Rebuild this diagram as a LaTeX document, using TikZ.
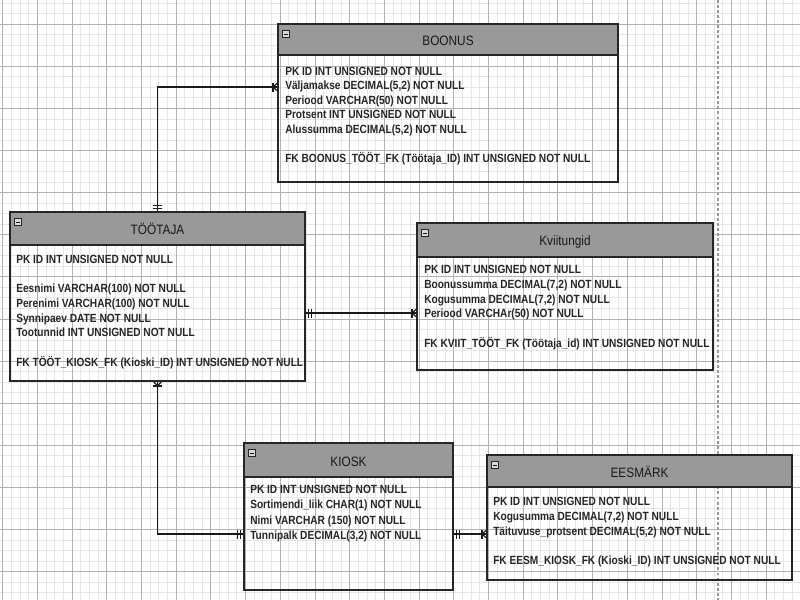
\documentclass[tikz,border=0pt]{standalone}
\usepackage{fontspec}
\usetikzlibrary{calc,fit}
\newfontfamily\erdbody{Liberation Sans Bold}[FakeStretch=0.855]
\newfontfamily\erdtitle{Liberation Sans}[FakeStretch=0.87]
\definecolor{gridmajor}{HTML}{B2B2B2}
\definecolor{gridminor}{HTML}{E6E6E6}
\definecolor{hdrgray}{HTML}{999999}
\definecolor{frame}{HTML}{262626}
\definecolor{wire}{HTML}{1A1A1A}

\tikzset{
  manyend/.pic={
    \draw[tick] (-5,-4.5) -- (-5,4.5);
    \draw[tick] (0,-4.5) -- (-5,0) -- (0,4.5);
  },
  oneend/.pic={
    \draw[tick] (-3.5,-4.5) -- (-3.5,4.5) (-6.5,-4.5) -- (-6.5,4.5);
  },
  minusicon/.pic={
    \draw[fill=gray!30,draw=black!85,line width=0.6pt] (-3.5,-3.5) rectangle (3.5,3.5);
    \draw[black!90,line width=0.7pt] (-2,0) -- (2,0);
  }
}

\begin{document}
\begin{tikzpicture}[x=0.75pt,y=-0.75pt,
  area/.style={inner sep=0pt,outer sep=0pt},
  tblframe/.style={draw=frame,line width=1.6pt},
  hdrbar/.style={fill=hdrgray,draw=frame,line width=1.2pt},
  ttl/.style={font=\erdtitle\fontsize{10.2}{12}\selectfont,inner sep=0pt,anchor=base,text=black!90},
  row/.style={font=\erdbody\fontsize{8.9}{11}\selectfont,inner sep=0pt,anchor=base west,text=black!85},
  conn/.style={draw=wire,line width=1.1pt},
  tick/.style={draw=wire,line width=0.9pt},
  gminor/.style={draw=gridminor,line width=0.75pt},
  gmajor/.style={draw=gridmajor,line width=0.75pt}
]
\useasboundingbox (0,0) rectangle (800,600);
\fill[white] (0,0) rectangle (800,600);

% background grid: 4 minor cells per major cell
\foreach \k in {0,...,92} {
  \pgfmathsetmacro\gx{2.7+8.675*\k}
  \draw[gminor] (\gx,0) -- (\gx,600);
}
\foreach \k in {-3,...,55} {
  \pgfmathsetmacro\gy{24.3+10.525*\k}
  \draw[gminor] (0,\gy) -- (800,\gy);
}
\foreach \k in {0,...,23} {
  \pgfmathsetmacro\gx{2.7+34.7*\k}
  \draw[gmajor] (\gx,0) -- (\gx,600);
}
\foreach \k in {-1,...,14} {
  \pgfmathsetmacro\gy{24.3+42.1*\k}
  \draw[gmajor] (0,\gy) -- (800,\gy);
}
% page boundary guide
\draw[gray!80,line width=0.9pt,dash pattern=on 2.2pt off 1.6pt] (718,0) -- (718,600);

% table areas
\node[area,fit={(278,24)(618,182)}] (boonus) {};
\node[area,fit={(10,212)(305,381)}] (tootaja) {};
\node[area,fit={(417,223)(713,370)}] (kviit) {};
\node[area,fit={(244,443)(453,590)}] (kiosk) {};
\node[area,fit={(487,455)(792,580)}] (eesm) {};

% relationships
\draw[conn] (tootaja.north) |- (boonus.west |- 0,87);
\draw[conn] (tootaja.east |- 0,313) -- (kviit.west |- 0,313);
\draw[conn] (tootaja.south) |- (kiosk.west |- 0,534);
\draw[conn] (kiosk.east |- 0,534) -- (eesm.west |- 0,534);

\pic at (boonus.west |- 0,87) {manyend};
\pic[rotate=-90] at (tootaja.north) {oneend};
\pic[rotate=180] at (tootaja.east |- 0,313) {oneend};
\pic at (kviit.west |- 0,313) {manyend};
\pic[rotate=90] at (tootaja.south) {manyend};
\pic at (kiosk.west |- 0,534) {oneend};
\pic[rotate=180] at (kiosk.east |- 0,534) {oneend};
\pic at (eesm.west |- 0,534) {manyend};

% headers
\path[hdrbar] (boonus.north west) rectangle (boonus.east |- 0,55);
\path[hdrbar] (tootaja.north west) rectangle (tootaja.east |- 0,245);
\path[hdrbar] (kviit.north west) rectangle (kviit.east |- 0,257);
\path[hdrbar] (kiosk.north west) rectangle (kiosk.east |- 0,477);
\path[hdrbar] (eesm.north west) rectangle (eesm.east |- 0,487);

% frames
\foreach \t in {boonus,tootaja,kviit,kiosk,eesm} {
  \draw[tblframe] (\t.north west) rectangle (\t.south east);
  \pic at ($(\t.north west)+(8,10)$) {minusicon};
}

% titles
\node[ttl] (boonus-t) at (448,45.3) {BOONUS};
\node[ttl] (tootaja-t) at (157.5,234.6) {TÖÖTAJA};
\node[ttl] (kviit-t) at (565,245.6) {Kviitungid};
\node[ttl] (kiosk-t) at (348.5,466.3) {KIOSK};
\node[ttl] (eesm-t) at (639.5,477.3) {EESMÄRK};

% columns
\foreach \yy/\txt [count=\i] in {
  75/{PK ID INT UNSIGNED NOT NULL},
  89.6/{Väljamakse DECIMAL(5,2) NOT NULL},
  104.2/{Periood VARCHAR(50) NOT NULL},
  118.8/{Protsent INT UNSIGNED NOT NULL},
  133.4/{Alussumma DECIMAL(5,2) NOT NULL},
  162.4/{FK BOONUS\_TÖÖT\_FK (Töötaja\_ID) INT UNSIGNED NOT NULL}}
  \node[row] (boonus-r\i) at (285,\yy) {\txt};

\foreach \yy/\txt [count=\i] in {
  263.3/{PK ID INT UNSIGNED NOT NULL},
  292.6/{Eesnimi VARCHAR(100) NOT NULL},
  307.4/{Perenimi VARCHAR(100) NOT NULL},
  322/{Synnipaev DATE NOT NULL},
  336.8/{Tootunnid INT UNSIGNED NOT NULL},
  366/{FK TÖÖT\_KIOSK\_FK (Kioski\_ID) INT UNSIGNED NOT NULL}}
  \node[row] (tootaja-r\i) at (16,\yy) {\txt};

\foreach \yy/\txt [count=\i] in {
  273.3/{PK ID INT UNSIGNED NOT NULL},
  288.2/{Boonussumma DECIMAL(7,2) NOT NULL},
  303/{Kogusumma DECIMAL(7,2) NOT NULL},
  317.8/{Periood VARCHAr(50) NOT NULL},
  347/{FK KVIIT\_TÖÖT\_FK (Töötaja\_id) INT UNSIGNED NOT NULL}}
  \node[row] (kviit-r\i) at (424,\yy) {\txt};

\foreach \yy/\txt [count=\i] in {
  493.3/{PK ID INT UNSIGNED NOT NULL},
  508.6/{Sortimendi\_liik CHAR(1) NOT NULL},
  524/{Nimi VARCHAR (150) NOT NULL},
  539.2/{Tunnipalk DECIMAL(3,2) NOT NULL}}
  \node[row] (kiosk-r\i) at (250,\yy) {\txt};

\foreach \yy/\txt [count=\i] in {
  505/{PK ID INT UNSIGNED NOT NULL},
  520/{Kogusumma DECIMAL(7,2) NOT NULL},
  535/{Täituvuse\_protsent DECIMAL(5,2) NOT NULL},
  564.3/{FK EESM\_KIOSK\_FK (Kioski\_ID) INT UNSIGNED NOT NULL}}
  \node[row] (eesm-r\i) at (493,\yy) {\txt};
\end{tikzpicture}
\end{document}
